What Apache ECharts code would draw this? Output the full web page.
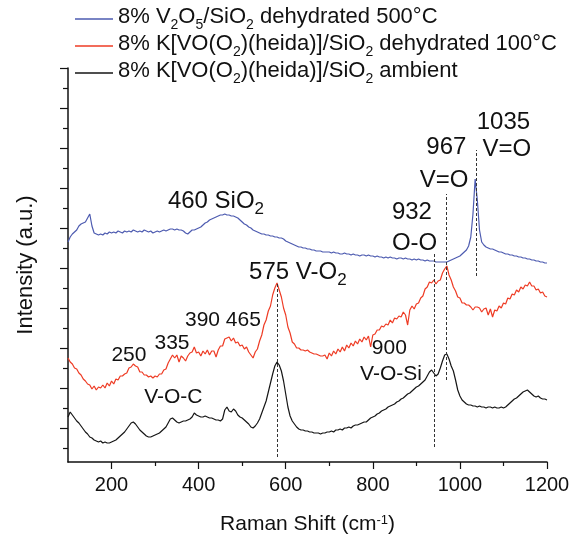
<!DOCTYPE html>
<html><head><meta charset="utf-8">
<script src="https://cdn.jsdelivr.net/npm/echarts@6/dist/echarts.min.js"></script>
<style>html,body{margin:0;padding:0;background:#fff}#c{width:573px;height:534px}</style>
</head><body><div id="c"></div>
<script>
// Raman shift (cm-1)
const shift = [
100,105,110,115,120,125,130,135,140,145,150,155,160,165,170,175,180,185,190,195,
200,205,210,215,220,225,230,235,240,245,250,255,260,265,270,275,280,285,290,295,
300,305,310,315,320,325,330,335,340,345,350,355,360,365,370,375,380,385,390,395,
400,405,410,415,420,425,430,435,440,445,450,455,460,465,470,475,480,485,490,495,
500,505,510,515,520,525,530,535,540,545,550,555,560,565,570,575,580,585,590,595,
600,605,610,615,620,625,630,635,640,645,650,655,660,665,670,675,680,685,690,695,
700,705,710,715,720,725,730,735,740,745,750,755,760,765,770,775,780,785,790,795,
800,805,810,815,820,825,830,835,840,845,850,855,860,865,870,875,880,885,890,895,
900,905,910,915,920,925,930,935,940,945,950,955,960,965,970,975,980,985,990,995,
1000,1005,1010,1015,1020,1025,1030,1035,1040,1045,1050,1055,1060,1065,1070,1075,1080,1085,1090,1095,
1100,1105,1110,1115,1120,1125,1130,1135,1140,1145,1150,1155,1160,1165,1170,1175,1180,1185,1190,1195,
1200];
// intensity (a.u., stacked offsets as drawn)
const blueVals = [
220,225,228,230,232,236,238,239,240,244,248,236,229,228,227,228,227,229,228,230,
229,230,229,231,230,229,231,230,231,230,232,231,230,231,230,232,231,230,231,229,
230,231,230,231,232,231,232,233,233,232,233,232,232,231,229,228,230,232,232,233,
234,235,237,239,240,242,243,244,245,246,247,247,248,247,247,246,246,245,244,242,
240,238,237,235,234,232,231,230,229,228,228,227,227,226,226,225,225,224,224,223,
221,220,219,218,217,216,215,215,214,214,213,213,212,212,211,211,211,210,210,210,
210,209,210,209,209,208,208,209,208,208,207,208,207,207,206,207,207,206,207,206,
206,205,206,205,205,204,205,204,205,204,204,203,204,204,203,204,203,203,202,203,
202,203,202,202,201,202,201,201,201,200,200,200,200,200,200,201,202,203,204,205,
206,208,210,212,216,225,248,283,262,232,220,217,215,214,213,213,212,211,210,210,
209,208,208,207,207,206,206,205,205,204,204,203,203,202,202,201,201,200,200,199,
199];
const redVals = [
104,100,98,94,93,89,87,83,81,78,77,73,76,72,75,74,77,74,79,76,
81,78,83,82,86,86,88,89,94,95,98,96,95,90,90,87,87,85,86,84,
86,85,88,88,92,93,99,103,107,104,107,100,106,104,101,106,109,110,115,109,
110,106,111,108,112,107,111,111,105,112,116,116,123,124,125,121,124,119,120,116,
117,113,115,110,107,104,110,113,121,127,137,142,151,156,167,174,179,172,165,154,
147,135,129,120,118,114,114,112,112,111,112,110,109,108,108,107,106,106,107,103,
109,106,111,108,113,110,115,111,117,114,119,116,121,118,123,120,125,122,126,115,
127,128,132,132,136,135,138,137,142,139,144,143,146,145,150,147,137,152,156,153,
158,159,164,166,173,175,180,179,182,178,181,182,189,193,196,187,182,175,171,165,
164,159,159,157,157,155,152,155,155,154,150,153,154,147,153,145,152,151,156,154,
159,158,164,163,168,167,172,170,175,173,177,176,180,176,176,172,173,169,170,166,
165];
const blackVals = [
45,50,47,44,41,39,36,33,30,28,25,24,22,21,20,21,19,20,19,19,
20,21,22,24,26,28,30,33,36,39,40,38,35,32,30,28,26,25,25,26,
27,28,29,31,33,35,39,43,44,42,40,39,40,41,41,42,43,45,49,47,
46,45,45,46,45,44,44,43,42,42,41,43,52,55,51,50,53,51,47,45,
44,42,40,38,35,34,36,39,43,49,55,61,70,79,88,96,100,97,91,81,
68,55,46,41,38,35,33,32,32,31,31,30,30,29,29,29,28,29,29,30,
30,31,30,32,32,33,32,34,34,35,34,36,37,37,38,39,40,40,42,44,
45,46,48,49,51,52,53,55,56,57,58,60,61,63,64,66,68,69,71,73,
75,76,78,80,82,86,90,92,89,86,88,94,101,107,108,103,96,91,82,72,
66,62,60,58,57,57,56,56,55,56,55,55,54,55,55,54,55,54,54,55,
54,55,57,59,61,63,64,66,68,70,71,72,70,68,66,65,66,64,63,63,
62];

const seriesNames = [
  '8% V2O5/SiO2 dehydrated 500°C',
  '8% K[VO(O2)(heida)]/SiO2 dehydrated 100°C',
  '8% K[VO(O2)(heida)]/SiO2 ambient'
];
const legendTexts = [
  '{m|8% V}{s|2}{m|O}{s|5}{m|/SiO}{s|2}{m| dehydrated 500°C}',
  '{m|8% K[VO(O}{s|2}{m|)(heida)]/SiO}{s|2}{m| dehydrated 100°C}',
  '{m|8% K[VO(O}{s|2}{m|)(heida)]/SiO}{s|2}{m| ambient}'
];
const xTickLabels = [200, 400, 600, 800, 1000, 1200];
const xMinorTicks = [300, 500, 700, 900, 1100];
const yMajorTicks = [34, 74, 114, 154, 194, 234, 274, 314, 354, 394];
const yMinorTicks = [14, 54, 94, 134, 174, 214, 254, 294, 334, 374];
// dashed peak markers: [shift, from, to]
const peakLines = [[580, 5, 179], [940, 15, 210], [968, 82, 268], [1037, 186, 312]];
// annotations: [shift, intensity, text]
const annotations = [
  [441, 258, '{b|460 SiO}{bs|2}'],
  [629, 187, '{b|575 V-O}{bs|2}'],
  [891, 247, '{b|932}'],
  [897, 216, '{b|O-O}'],
  [970, 312, '{b|967}'],
  [965, 279, '{b|V=O}'],
  [1101, 337, '{b|1035}'],
  [1109, 310, '{b|V=O}'],
  [241, 106, '{n|250}'],
  [340, 118, '{n|335}'],
  [457, 141, '{n|390 465}'],
  [343, 64, '{n|V-O-C}'],
  [839, 113, '{n|900}'],
  [843, 87, '{n|V-O-Si}']
];

const FF = '"Liberation Sans", Arial, Helvetica, sans-serif';
const TXT = '#111111';
const colors = ['#4d5bb0', '#ee3b24', '#151515'];
const valsList = [blueVals, redVals, blackVals];

const series = valsList.map((vals, k) => ({
  name: seriesNames[k],
  type: 'line',
  data: shift.map((x, i) => [x, vals[i]]),
  showSymbol: false,
  symbol: 'none',
  lineStyle: { color: colors[k], width: 1.2 },
  itemStyle: { color: colors[k] },
  z: 2 + k
}));
series[2].markLine = {
  silent: true,
  symbol: ['none', 'none'],
  label: { show: false },
  lineStyle: { color: '#333', type: [3, 2], width: 1 },
  data: peakLines.map(p => [{ coord: [p[0], p[1]] }, { coord: [p[0], p[2]] }])
};
const annRich = {
  b: { fontFamily: FF, fontSize: 24, color: TXT, verticalAlign: 'bottom', padding: [0, 0, 5, 0] },
  bs: { fontFamily: FF, fontSize: 17, color: TXT, verticalAlign: 'bottom' },
  n: { fontFamily: FF, fontSize: 21, color: TXT }
};
series.push({
  type: 'scatter',
  silent: true,
  symbolSize: 1,
  itemStyle: { color: 'rgba(255,255,255,0)' },
  z: 10,
  data: annotations.map(a => [a[0], a[1]]),
  label: {
    show: true,
    position: [0, 0],
    align: 'center',
    verticalAlign: 'middle',
    color: TXT,
    opacity: 1,
    textBorderWidth: 0,
    formatter: p => annotations[p.dataIndex][2],
    rich: annRich
  }
});

const axisLineStyle = { color: '#111', width: 1.5 };
const chart = echarts.init(document.getElementById('c'), null, { renderer: 'canvas' });
chart.setOption({
  animation: false,
  backgroundColor: '#fff',
  grid: { left: 68, right: 26, top: 68, bottom: 72, containLabel: false, outerBoundsMode: 'none' },
  legend: {
    data: seriesNames,
    orient: 'vertical',
    left: 75, top: 6,
    padding: 0,
    itemGap: 1,
    itemWidth: 38,
    itemHeight: 1.5,
    icon: 'rect',
    formatter: name => legendTexts[seriesNames.indexOf(name)],
    textStyle: {
      fontFamily: FF, fontSize: 22, color: TXT,
      rich: {
        m: { fontFamily: FF, fontSize: 22, color: TXT, verticalAlign: 'bottom', padding: [0, 0, 4, 0] },
        s: { fontFamily: FF, fontSize: 14, color: TXT, verticalAlign: 'bottom' }
      }
    }
  },
  xAxis: [{
    type: 'value', min: 100, max: 1200,
    axisLine: { show: true, lineStyle: axisLineStyle },
    axisTick: { show: true, inside: false, length: 7, customValues: xTickLabels, lineStyle: { color: '#111', width: 1.2 } },
    axisLabel: { show: true, customValues: xTickLabels, formatter: v => String(v), fontFamily: FF, fontSize: 20, color: TXT, margin: 13 },
    splitLine: { show: false },
    name: '{m|Raman Shift (cm}{sup|-1}{m|)}',
    nameLocation: 'middle',
    nameGap: 52,
    nameTextStyle: {
      fontFamily: FF, fontSize: 21, color: TXT,
      rich: {
        m: { fontFamily: FF, fontSize: 21, color: TXT, verticalAlign: 'bottom' },
        sup: { fontFamily: FF, fontSize: 13, color: TXT, verticalAlign: 'top' }
      }
    }
  }, {
    type: 'value', min: 100, max: 1200, position: 'bottom',
    axisLine: { show: false },
    axisTick: { show: true, length: 4, customValues: xMinorTicks, lineStyle: { color: '#111', width: 1.2 } },
    axisLabel: { show: false },
    splitLine: { show: false }
  }],
  yAxis: [{
    type: 'value', min: 0, max: 394,
    axisLine: { show: true, lineStyle: axisLineStyle },
    axisTick: { show: true, length: 8, customValues: yMajorTicks, lineStyle: { color: '#111', width: 1.2 } },
    axisLabel: { show: false },
    splitLine: { show: false },
    name: 'Intensity (a.u.)',
    nameLocation: 'middle',
    nameRotate: 90,
    nameGap: 31,
    nameTextStyle: { fontFamily: FF, fontSize: 22, color: TXT }
  }, {
    type: 'value', min: 0, max: 394, position: 'left',
    axisLine: { show: false },
    axisTick: { show: true, length: 5, customValues: yMinorTicks, lineStyle: { color: '#111', width: 1.2 } },
    axisLabel: { show: false },
    splitLine: { show: false }
  }],
  series: series
});
</script>
</body></html>
